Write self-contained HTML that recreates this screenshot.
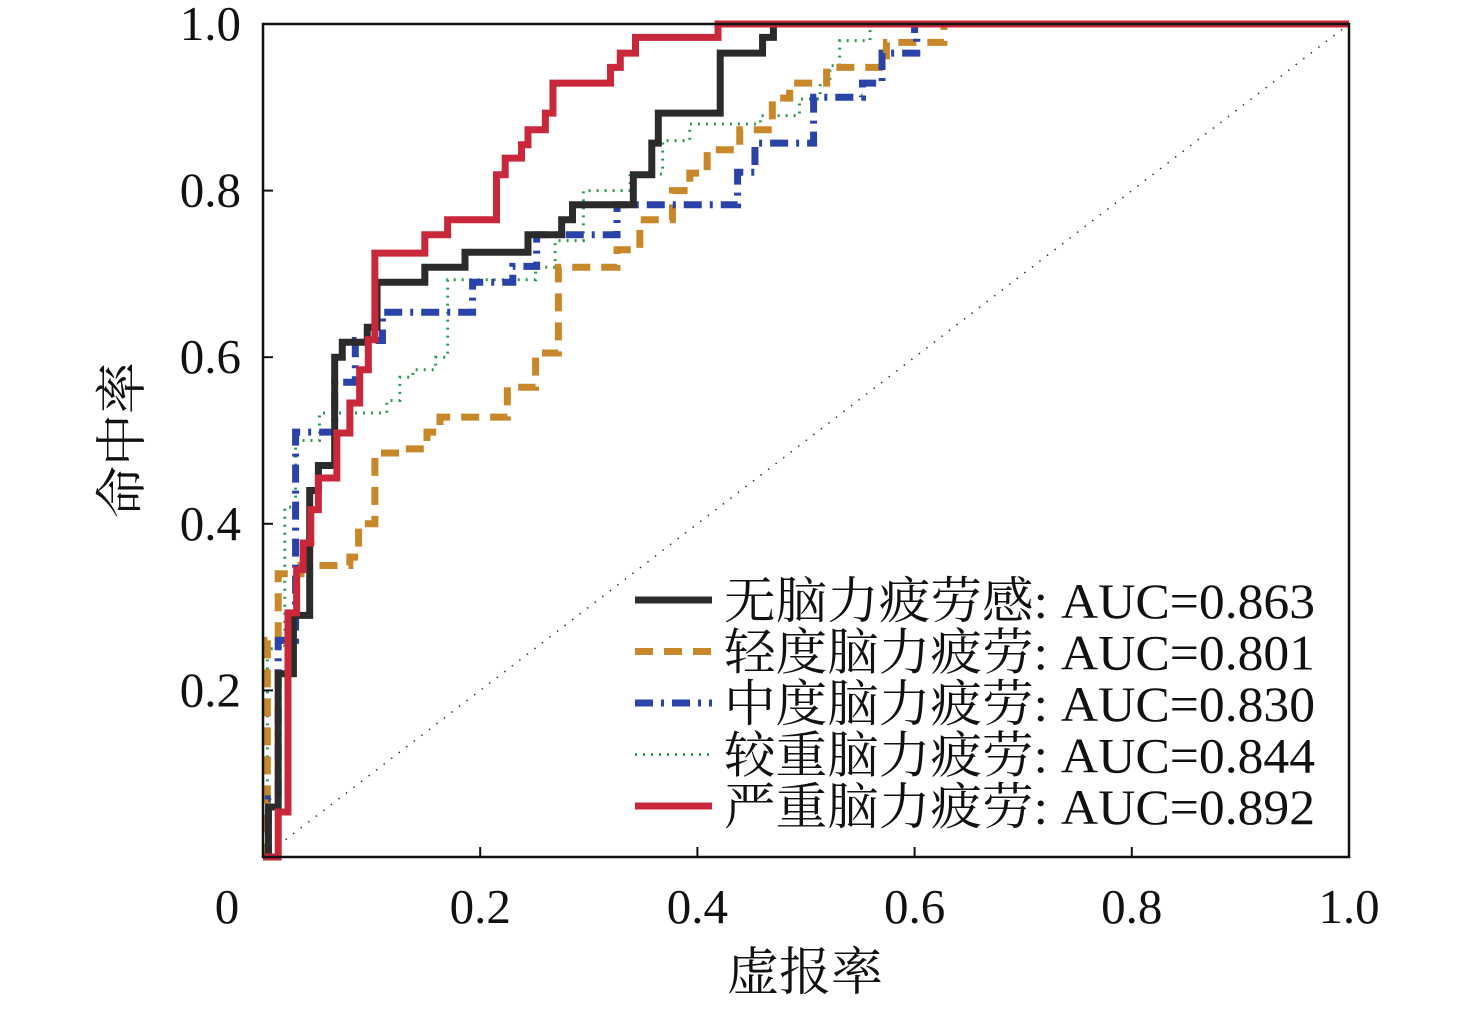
<!DOCTYPE html>
<html><head><meta charset="utf-8"><style>
body{margin:0;background:#fff}
svg text{font-family:"Liberation Serif","Noto Serif CJK SC",serif;fill:#111}
</style></head><body>
<svg id="chart" width="1476" height="1006" viewBox="0 0 1476 1006">
<g id="curves"></g>
<rect x="263" y="24" width="1086" height="833" fill="none" stroke="#111" stroke-width="2.5"/>
<g id="axes"></g>
<text x="805" y="990" font-size="52" text-anchor="middle">虚报率</text>
<text transform="translate(140,440) rotate(-90)" font-size="52" text-anchor="middle">命中率</text>
<g id="legend"></g>
</svg>
<script>
const seriesNames=["无脑力疲劳感: AUC=0.863","轻度脑力疲劳: AUC=0.801","中度脑力疲劳: AUC=0.830","较重脑力疲劳: AUC=0.844","严重脑力疲劳: AUC=0.892"];
const blackFpr=[0.005,0.014,0.028,0.043,0.051,0.066,0.073,0.096,0.105,0.149,0.186,0.244,0.275,0.285,0.341,0.358,0.364,0.421,0.460,0.470,1.0];
const blackTpr=[0.06,0.22,0.29,0.44,0.47,0.60,0.618,0.636,0.69,0.708,0.726,0.747,0.765,0.783,0.819,0.857,0.893,0.965,0.984,1.0,1.0];
const orangeFpr=[0.004,0.014,0.035,0.08,0.088,0.103,0.126,0.151,0.163,0.225,0.251,0.272,0.326,0.347,0.377,0.393,0.409,0.439,0.469,0.485,0.519,0.574,0.627,1.0];
const orangeTpr=[0.26,0.34,0.35,0.36,0.40,0.485,0.49,0.51,0.528,0.564,0.605,0.708,0.729,0.765,0.80,0.821,0.849,0.873,0.911,0.929,0.948,0.978,1.0,1.0];
const blueFpr=[0.005,0.014,0.030,0.066,0.085,0.110,0.193,0.230,0.252,0.326,0.437,0.453,0.507,0.552,0.570,0.602,0.6,1.0];
const blueTpr=[0.07,0.26,0.51,0.57,0.62,0.654,0.69,0.709,0.747,0.783,0.822,0.857,0.912,0.929,0.965,0.984,1.0,1.0];
const greenFpr=[0.004,0.020,0.030,0.052,0.114,0.126,0.138,0.159,0.170,0.251,0.269,0.295,0.338,0.368,0.393,0.458,0.494,0.513,0.522,0.531,0.559,1.0];
const greenTpr=[0.25,0.42,0.50,0.533,0.548,0.576,0.585,0.60,0.693,0.708,0.74,0.80,0.82,0.86,0.88,0.89,0.91,0.93,0.95,0.98,1.0,1.0];
const redFpr=[0.006,0.014,0.023,0.031,0.037,0.044,0.051,0.068,0.080,0.089,0.097,0.103,0.149,0.170,0.215,0.223,0.238,0.244,0.260,0.267,0.320,0.329,0.343,0.419,1.0];
const redTpr=[0,0.054,0.293,0.345,0.377,0.417,0.455,0.509,0.545,0.585,0.621,0.725,0.747,0.765,0.819,0.839,0.855,0.873,0.893,0.929,0.948,0.965,0.984,1.0,1.0];
const xTicks=[0,0.2,0.4,0.6,0.8,1.0];
const xTickLabels=["0","0.2","0.4","0.6","0.8","1.0"];
const yTicks=[0.2,0.4,0.6,0.8,1.0];
const yTickLabels=["0.2","0.4","0.6","0.8","1.0"];
const X0=263,X1=1349,Y0=857,Y1=24;
const sx=v=>X0+v*(X1-X0), sy=v=>Y0-v*(Y0-Y1);
const NS="http://www.w3.org/2000/svg";
const curves=document.getElementById('curves'),axes=document.getElementById('axes'),legend=document.getElementById('legend');
function mk(t,a,p){const e=document.createElementNS(NS,t);for(const k in a)e.setAttribute(k,a[k]);p.appendChild(e);return e;}
const diag=mk('line',{x1:sx(0),y1:sy(0),x2:sx(1),y2:sy(1),stroke:'#333','stroke-width':1.5,'stroke-dasharray':'1.5 8'},curves);


const styles=[
 {c:'#2b2b2b',w:7,d:'none',f:blackFpr,t:blackTpr,n:'curve-none'},
 {c:'#c8882a',w:7,d:'18 11',f:orangeFpr,t:orangeTpr,n:'curve-mild'},
 {c:'#2a43a8',w:7,d:'18 8 3 8',f:blueFpr,t:blueTpr,n:'curve-moderate'},
 {c:'#2e9a4e',w:3,d:'2 6',f:greenFpr,t:greenTpr,n:'curve-heavy'},
 {c:'#c9273a',w:7,d:'none',f:redFpr,t:redTpr,n:'curve-severe'}];
const order=[3,1,2,0,4];
order.forEach(i=>{const s=styles[i];let d='M'+sx(0)+','+sy(0);
 for(let k=0;k<s.f.length;k++){d+=' H'+sx(s.f[k])+' V'+sy(s.t[k]);}
 const p=mk('path',{d:d,fill:'none',stroke:s.c,'stroke-width':s.w,'stroke-dasharray':s.d},curves);
 
 });
xTicks.forEach((v,i)=>{
 if(v>0&&v<1){const l=mk('line',{x1:sx(v),y1:Y0,x2:sx(v),y2:Y0-10,stroke:'#111','stroke-width':2},axes);
 
 }
 const t=mk('text',{x:v===0?227:sx(v),y:923,'font-size':49,'text-anchor':'middle'},axes);t.textContent=xTickLabels[i];
 
 });
yTicks.forEach((v,i)=>{
 const l=mk('line',{x1:X0,y1:sy(v),x2:X0+10,y2:sy(v),stroke:'#111','stroke-width':2},axes);
 
 
 const t=mk('text',{x:241,y:sy(v)+16,'font-size':49,'text-anchor':'end'},axes);t.textContent=yTickLabels[i];
 
 });
styles.forEach((s,i)=>{const y=600+i*51.5;
 const l=mk('line',{x1:635,y1:y,x2:712,y2:y,stroke:s.c,'stroke-width':s.w,'stroke-dasharray':s.d},legend);
 
 
 const t=mk('text',{x:724,y:y+18,'font-size':50,textLength:591,lengthAdjust:'spacingAndGlyphs'},legend);t.textContent=seriesNames[i];
 
 });
</script>
</body></html>
